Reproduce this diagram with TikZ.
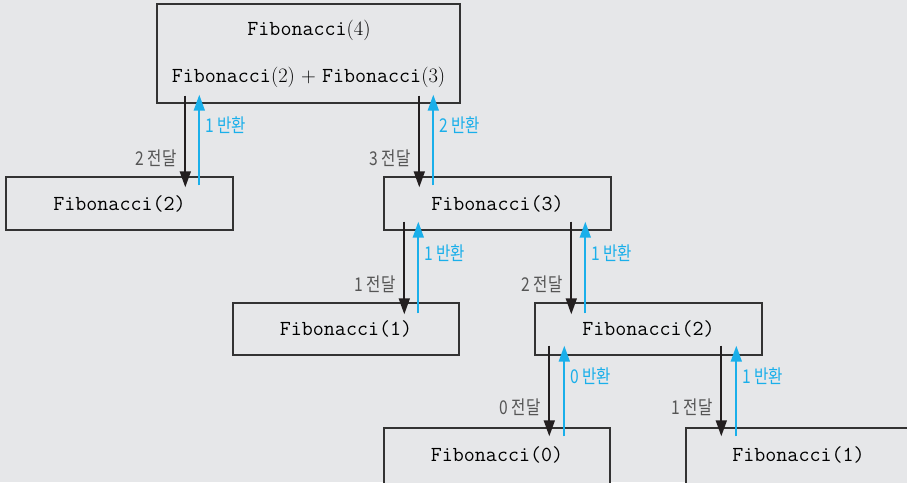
\documentclass[tikz,border=0pt]{standalone}
\usepackage{fontspec}
\usetikzlibrary{arrows.meta,calc}
\newfontfamily\krf[FakeStretch=0.82]{Noto Sans CJK KR}
\newcommand\monosize{\ttfamily\fontsize{21.4}{23}\selectfont}
\definecolor{bgc}{HTML}{E6E7E9}
\definecolor{boxc}{HTML}{333333}
\definecolor{arrc}{HTML}{231F20}
\definecolor{bluec}{HTML}{1AAFEA}
\definecolor{grayc}{HTML}{555555}
\begin{document}
\begin{tikzpicture}[x=1pt,y=-1pt,
  box/.style={draw=boxc, line width=1.4pt, fill=bgc, minimum width=227pt, minimum height=53pt, inner sep=0pt, font=\monosize},
  boxtext/.style={inner sep=0pt, font=\monosize},
  toptext/.style={inner sep=0pt, font=\fontsize{20.5}{22}\selectfont},
  pass/.style={draw=arrc, line width=1.8pt, -{Triangle[length=16pt,width=11pt]}},
  ret/.style={draw=bluec, line width=1.8pt, -{Triangle[length=16pt,width=11pt]}},
  passlbl/.style={left, inner sep=0pt, xshift=-8pt, text=grayc, font=\krf\fontsize{19}{20}\selectfont},
  retlbl/.style={right, inner sep=0pt, xshift=5pt, text=bluec, font=\krf\fontsize{19}{20}\selectfont}]
\useasboundingbox (0,0) rectangle (907,482);
\clip (0,0) rectangle (907,482);
\fill[bgc] (0,0) rectangle (907,482);

% boxes
\node[box, minimum width=303pt, minimum height=99pt] (top) at (308.5,53.5) {};
\node[toptext] (t1) at (309,30.5) {{\monosize Fibonacci}(4)};
\node[toptext] (t2) at (308.5,77.5) {{\monosize Fibonacci}(2) + {\monosize Fibonacci}(3)};

\node[box] (f2a) at (119.5,203.5) {Fibonacci(2)};
\node[box] (f3) at (497.5,203.5) {Fibonacci(3)};
\node[box, minimum width=226pt, minimum height=52pt] (f1a) at (346,329) {Fibonacci(1)};
\node[box, minimum height=52pt] (f2b) at (648.5,329) {Fibonacci(2)};
\node[box, minimum width=226pt, minimum height=60pt] (f0) at (497,458) {};
\node[boxtext] (f0t) at (497,454.5) {Fibonacci(0)};
\node[box, minimum height=60pt] (f1b) at (799.5,458) {};
\node[boxtext] (f1bt) at (798.5,454.5) {Fibonacci(1)};

% top -> F(2), F(3)
\draw[pass] ($(top.south west)+(29,-8)$) -- ($(f2a.north west)+(180,11)$) node[passlbl, pos=0.68] {2 전달};
\draw[ret] ($(f2a.north west)+(194,9)$) -- ($(top.south west)+(43,-9)$) node[retlbl, pos=0.66] {1 반환};
\draw[pass] ($(top.south west)+(263,-8)$) -- ($(f3.north west)+(36,11)$) node[passlbl, pos=0.68] {3 전달};
\draw[ret] ($(f3.north west)+(50,9)$) -- ($(top.south west)+(277,-9)$) node[retlbl, pos=0.66] {2 반환};

% F(3) -> F(1), F(2)
\draw[pass] ($(f3.south west)+(21,-9)$) -- ($(f1a.north west)+(172,12)$) node[passlbl, pos=0.68] {1 전달};
\draw[ret] ($(f1a.north west)+(186,11)$) -- ($(f3.south west)+(35,-9)$) node[retlbl, pos=0.66] {1 반환};
\draw[pass] ($(f3.south west)+(188,-9)$) -- ($(f2b.north west)+(37,12)$) node[passlbl, pos=0.68] {2 전달};
\draw[ret] ($(f2b.north west)+(51,11)$) -- ($(f3.south west)+(202,-9)$) node[retlbl, pos=0.66] {1 반환};

% F(2) -> F(0), F(1)
\draw[pass] ($(f2b.south west)+(15,-10)$) -- ($(f0.north west)+(166,9)$) node[passlbl, pos=0.68] {0 전달};
\draw[ret] ($(f0.north west)+(181,9)$) -- ($(f2b.south west)+(30,-10)$) node[retlbl, pos=0.66] {0 반환};
\draw[pass] ($(f2b.south west)+(187,-10)$) -- ($(f1b.north west)+(36,9)$) node[passlbl, pos=0.68] {1 전달};
\draw[ret] ($(f1b.north west)+(51,9)$) -- ($(f2b.south west)+(202,-10)$) node[retlbl, pos=0.66] {1 반환};
\end{tikzpicture}
\end{document}
